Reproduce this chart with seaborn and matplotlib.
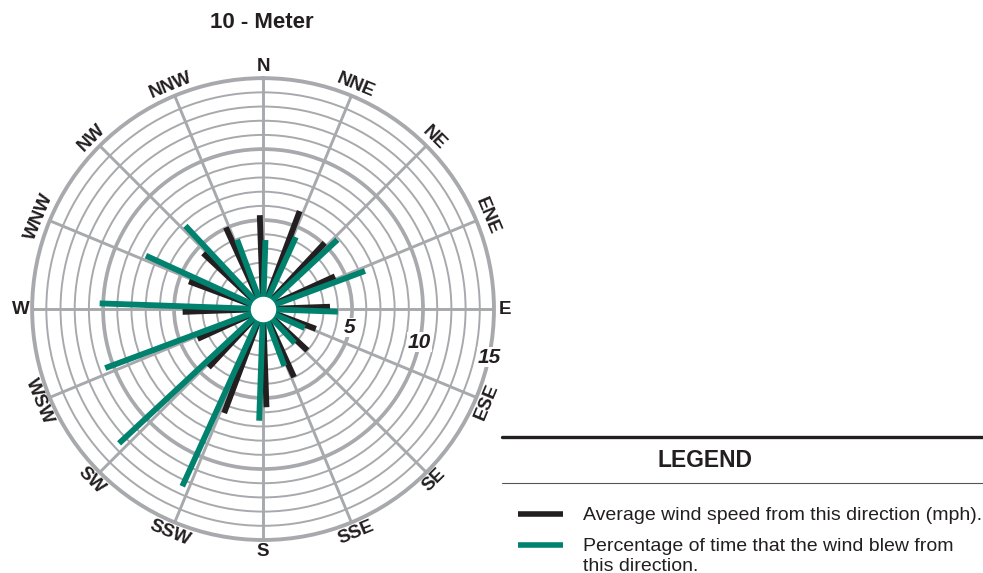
import numpy as np
import pandas as pd
import seaborn as sns
import matplotlib.pyplot as plt
from matplotlib.lines import Line2D
from matplotlib.ticker import FixedLocator

# wind rose data, 10 m level
directions = ['N', 'NNE', 'NE', 'ENE', 'E', 'ESE', 'SE', 'SSE',
              'S', 'SSW', 'SW', 'WSW', 'W', 'WNW', 'NW', 'NNW']
speed = [5.35, 6.1, 5.1, 4.3, 3.45, 2.7, 3.0, 4.0,
         5.65, 6.55, 4.35, 3.8, 4.4, 4.3, 4.5, 5.05]      # mph
percent = [3.6, 4.3, 5.9, 6.4, 4.0, 1.95, 2.0, 3.0,
           6.6, 12.45, 12.6, 10.6, 10.25, 7.8, 6.75, 3.95]  # % of time
ring_labels = [5, 10, 15]

GREEN = '#00826f'
BLACK = '#231f20'
GRAY = '#a7a9ac'
R_MIN = -1.27

sns.set_style('white')
plt.rcParams['font.family'] = ['Liberation Sans', 'DejaVu Sans']

compass = np.arange(16) * 22.5
theta = np.deg2rad(compass)

rows = []
for d, th, s, p in zip(directions, theta, speed, percent):
    for series, val, off in [('speed', s, -2.0), ('percent', p, 2.0)]:
        t = th + np.deg2rad(off)
        rows.append(dict(dir=d, series=series, theta=t, r=R_MIN))
        rows.append(dict(dir=d, series=series, theta=t, r=val))
df = pd.DataFrame(rows)

fig = plt.figure(figsize=(9.83, 5.73), dpi=100)
ax = fig.add_axes([0.0326, 0.0576, 0.470, 0.806], projection='polar')
ax.set_theta_zero_location('N')
ax.set_theta_direction(-1)

# grid: spokes, thin rings each unit, thick rings at 5 and 10
ax.set_xticks(theta)
ax.set_xticklabels([])
ax.set_yticks([5, 10])
ax.yaxis.set_minor_locator(FixedLocator([1, 2, 3, 4, 6, 7, 8, 9, 11, 12, 13, 14]))
ax.set_yticklabels([])
ax.grid(True, which='major', axis='x', color=GRAY, lw=2.1)
ax.grid(True, which='major', axis='y', color=GRAY, lw=2.7)
ax.grid(True, which='minor', axis='y', color=GRAY, lw=1.4)
ax.spines['polar'].set_color(GRAY)
ax.spines['polar'].set_linewidth(2.8)

for name, color in [('speed', BLACK), ('percent', GREEN)]:
    sns.lineplot(data=df[df.series == name], x='theta', y='r', units='dir',
                 estimator=None, sort=False, color=color, lw=4.2,
                 solid_capstyle='butt', legend=False, ax=ax)

ax.scatter([0], [R_MIN], s=300, color='white', zorder=5)
ax.set_ylim(R_MIN, 15)
ax.set_xlabel('')
ax.set_ylabel('')

for c, lab in zip(compass, directions):
    if c in (0, 90, 180, 270):
        rot = 0
    elif c < 90:
        rot = -c
    elif c < 270:
        rot = 180 - c
    else:
        rot = 360 - c
    ax.text(np.deg2rad(c), 15.8, lab, rotation=rot, rotation_mode='anchor',
            ha='center', va='center', fontsize=13.5, fontweight='bold', color=BLACK)

for v in ring_labels:
    ax.text(np.deg2rad(102), v, str(v), ha='center', va='center', fontsize=15,
            fontweight='bold', fontstyle='italic', color=BLACK, zorder=6,
            bbox=dict(fc='white', ec='none', pad=0.3))

fig.text(0.2665, 0.9616, '10 - Meter', ha='center', va='center',
         fontsize=16, fontweight='bold', color=BLACK)

# legend block
fig.add_artist(Line2D([0.5107, 1.0], [0.2373, 0.2373], color=BLACK, lw=2.4))
fig.text(0.717, 0.1955, 'LEGEND', ha='center', va='center',
         fontsize=16.5, fontweight='bold', color=BLACK)
fig.add_artist(Line2D([0.5107, 1.0], [0.157, 0.157], color='#555555', lw=0.8))
fig.add_artist(Line2D([0.527, 0.5727], [0.103, 0.103], color=BLACK, lw=4.0,
                      solid_capstyle='butt'))
fig.text(0.593, 0.0995, 'Average wind speed from this direction (mph).',
         ha='left', va='center', fontsize=14, color=BLACK)
fig.add_artist(Line2D([0.527, 0.5727], [0.0489, 0.0489], color=GREEN, lw=4.0,
                      solid_capstyle='butt'))
fig.text(0.593, 0.0454, 'Percentage of time that the wind blew from',
         ha='left', va='center', fontsize=14, color=BLACK)
fig.text(0.593, 0.012, 'this direction.',
         ha='left', va='center', fontsize=14, color=BLACK)

fig.savefig('out.png', dpi=100)
